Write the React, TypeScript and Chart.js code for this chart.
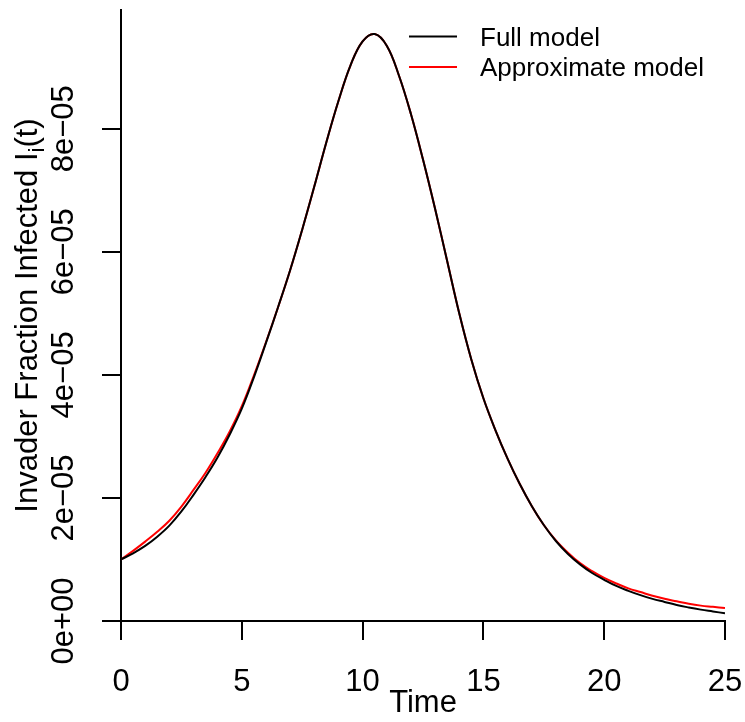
import React, { useEffect, useRef } from "react";
import { Chart, registerables } from "chart.js";

Chart.register(...registerables);

// ---- data ----
const TIME = [
  0, 0.5, 1, 1.5, 2, 2.5, 3, 3.5, 4, 4.5, 5, 5.5, 6, 6.5, 7, 7.5, 8, 8.5, 9, 9.5,
  10, 10.5, 11, 11.5, 12, 12.5, 13, 13.5, 14, 14.5, 15, 15.5, 16, 16.5, 17, 17.5,
  18, 18.5, 19, 19.5, 20, 20.5, 21, 21.5, 22, 22.5, 23, 23.5, 24, 24.5, 25,
];

const FULL_MODEL = [
  1.0e-5, 1.1e-5, 1.22e-5, 1.37e-5, 1.55e-5, 1.78e-5, 2.05e-5, 2.34e-5, 2.66e-5, 3.03e-5,
  3.45e-5, 3.96e-5, 4.52e-5, 5.1e-5, 5.7e-5, 6.36e-5, 7.06e-5, 7.78e-5, 8.45e-5, 9.03e-5,
  9.42e-5, 9.54e-5, 9.35e-5, 8.87e-5, 8.24e-5, 7.5e-5, 6.7e-5, 5.85e-5, 5.0e-5, 4.25e-5,
  3.62e-5, 3.1e-5, 2.64e-5, 2.23e-5, 1.87e-5, 1.56e-5, 1.3e-5, 1.09e-5, 0.92e-5, 0.78e-5,
  0.67e-5, 0.57e-5, 0.49e-5, 0.42e-5, 0.36e-5, 0.31e-5, 0.26e-5, 0.22e-5, 0.185e-5, 0.155e-5,
  0.125e-5,
];

const APPROX_MODEL = [
  1.0e-5, 1.14e-5, 1.29e-5, 1.45e-5, 1.63e-5, 1.86e-5, 2.13e-5, 2.41e-5, 2.73e-5, 3.08e-5,
  3.49e-5, 3.99e-5, 4.53e-5, 5.1e-5, 5.7e-5, 6.36e-5, 7.06e-5, 7.78e-5, 8.45e-5, 9.03e-5,
  9.42e-5, 9.54e-5, 9.35e-5, 8.87e-5, 8.24e-5, 7.5e-5, 6.7e-5, 5.85e-5, 5.0e-5, 4.25e-5,
  3.62e-5, 3.1e-5, 2.64e-5, 2.23e-5, 1.87e-5, 1.56e-5, 1.31e-5, 1.11e-5, 0.94e-5, 0.81e-5,
  0.7e-5, 0.61e-5, 0.53e-5, 0.47e-5, 0.41e-5, 0.36e-5, 0.32e-5, 0.28e-5, 0.25e-5, 0.23e-5,
  0.21e-5,
];

const X_TICKS = [0, 5, 10, 15, 20, 25];
const Y_TICKS = [0, 2e-5, 4e-5, 6e-5, 8e-5];
const Y_TICK_LABELS = ["0e+00", "2e\u221205", "4e\u221205", "6e\u221205", "8e\u221205"];
const X_MIN = 0;
const X_MAX = 25;
const Y_MIN = 0;
const Y_MAX = 9.93e-5;

const SERIES_LABELS = ["Full model", "Approximate model"];
const SERIES_COLORS = ["#000000", "#ff0000"];

const X_TITLE = "Time";
const Y_TITLE_MAIN = "Invader Fraction Infected I";
const Y_TITLE_SUB = "i";
const Y_TITLE_END = "(t)";

// ---- styling ----
const FAMILY = "'Liberation Sans', Arial, Helvetica, sans-serif";
const AXIS_FONT_SIZE = 31;
const LEGEND_FONT_SIZE = 26;

const overlayPlugin = {
  id: "rOverlay",
  afterDraw(chart: any) {
    const ctx: CanvasRenderingContext2D = chart.ctx;
    const yScale = chart.scales.y;
    const area = chart.chartArea;
    ctx.save();
    ctx.fillStyle = "#000";

    // y tick labels (rotated, R style)
    ctx.font = `${AXIS_FONT_SIZE}px ${FAMILY}`;
    ctx.textAlign = "center";
    ctx.textBaseline = "alphabetic";
    Y_TICKS.forEach((v, i) => {
      const py = yScale.getPixelForValue(v);
      ctx.save();
      ctx.translate(area.left - 48, py);
      ctx.rotate(-Math.PI / 2);
      ctx.fillText(Y_TICK_LABELS[i], 0, 0);
      ctx.restore();
    });

    // y title with subscript
    const mainFont = `${AXIS_FONT_SIZE}px ${FAMILY}`;
    const subFont = `${Math.round(AXIS_FONT_SIZE * 0.7)}px ${FAMILY}`;
    ctx.font = mainFont;
    const w1 = ctx.measureText(Y_TITLE_MAIN).width;
    const w3 = ctx.measureText(Y_TITLE_END).width;
    ctx.font = subFont;
    const w2 = ctx.measureText(Y_TITLE_SUB).width;
    const total = w1 + w2 + w3;
    const cy = (area.top + area.bottom) / 2;
    ctx.save();
    ctx.translate(area.left - 84, cy);
    ctx.rotate(-Math.PI / 2);
    ctx.textAlign = "left";
    let x0 = -total / 2;
    ctx.font = mainFont;
    ctx.fillText(Y_TITLE_MAIN, x0, 0);
    x0 += w1;
    ctx.font = subFont;
    ctx.fillText(Y_TITLE_SUB, x0, 7);
    x0 += w2;
    ctx.font = mainFont;
    ctx.fillText(Y_TITLE_END, x0, 0);
    ctx.restore();

    // legend
    ctx.font = `${LEGEND_FONT_SIZE}px ${FAMILY}`;
    ctx.textAlign = "left";
    ctx.textBaseline = "alphabetic";
    const rows = [
      { lineY: 36.5, textY: 46 },
      { lineY: 67, textY: 75.5 },
    ];
    chart.data.datasets.forEach((ds: any, i: number) => {
      const r = rows[i];
      ctx.strokeStyle = ds.borderColor;
      ctx.lineWidth = 2;
      ctx.beginPath();
      ctx.moveTo(409, r.lineY);
      ctx.lineTo(457, r.lineY);
      ctx.stroke();
      ctx.fillStyle = "#000";
      ctx.fillText(ds.label, 480, r.textY);
    });
    ctx.restore();
  },
};

export default function App() {
  const canvasRef = useRef<HTMLCanvasElement | null>(null);

  useEffect(() => {
    if (!canvasRef.current) return;
    const chart = new Chart(canvasRef.current, {
      type: "line",
      data: {
        datasets: [
          {
            label: SERIES_LABELS[0],
            data: TIME.map((t, i) => ({ x: t, y: FULL_MODEL[i] })),
            borderColor: SERIES_COLORS[0],
            backgroundColor: SERIES_COLORS[0],
            borderWidth: 2,
            pointRadius: 0,
            tension: 0.4,
            fill: false,
          },
          {
            label: SERIES_LABELS[1],
            data: TIME.map((t, i) => ({ x: t, y: APPROX_MODEL[i] })),
            borderColor: SERIES_COLORS[1],
            backgroundColor: SERIES_COLORS[1],
            borderWidth: 2,
            pointRadius: 0,
            tension: 0.4,
            fill: false,
          },
        ],
      },
      options: {
        animation: false,
        responsive: true,
        maintainAspectRatio: false,
        layout: { padding: { left: 0, right: 20, top: 10, bottom: 0 } },
        plugins: {
          legend: { display: false },
          tooltip: { enabled: false },
        },
        scales: {
          x: {
            type: "linear",
            min: X_MIN,
            max: X_MAX,
            afterBuildTicks: (s: any) => {
              s.ticks = X_TICKS.map((v) => ({ value: v }));
            },
            afterFit: (s: any) => {
              s.height = 101;
              s.paddingLeft = 0;
              s.paddingRight = 0;
            },
            border: { display: true, color: "#000", width: 2 },
            grid: {
              display: true,
              drawOnChartArea: false,
              drawTicks: true,
              tickLength: 19,
              color: "#000",
              lineWidth: 2,
            },
            ticks: {
              color: "#000",
              font: { family: FAMILY, size: AXIS_FONT_SIZE },
              padding: 24,
              maxRotation: 0,
              autoSkip: false,
            },
            title: {
              display: true,
              text: X_TITLE,
              color: "#000",
              font: { family: FAMILY, size: AXIS_FONT_SIZE },
              padding: { top: 0, bottom: 0 },
            },
          },
          y: {
            type: "linear",
            min: Y_MIN,
            max: Y_MAX,
            afterBuildTicks: (s: any) => {
              s.ticks = Y_TICKS.map((v) => ({ value: v }));
            },
            afterFit: (s: any) => {
              s.width = 121;
              s.paddingTop = 0;
              s.paddingBottom = 0;
            },
            border: { display: true, color: "#000", width: 2 },
            grid: {
              display: true,
              drawOnChartArea: false,
              drawTicks: true,
              tickLength: 19,
              color: "#000",
              lineWidth: 2,
            },
            ticks: { display: false },
          },
        },
      },
      plugins: [overlayPlugin],
    });
    return () => chart.destroy();
  }, []);

  return (
    <div
      style={{
        position: "fixed",
        left: 0,
        top: 0,
        width: 745,
        height: 722,
        background: "#fff",
      }}
    >
      <canvas ref={canvasRef} />
    </div>
  );
}
